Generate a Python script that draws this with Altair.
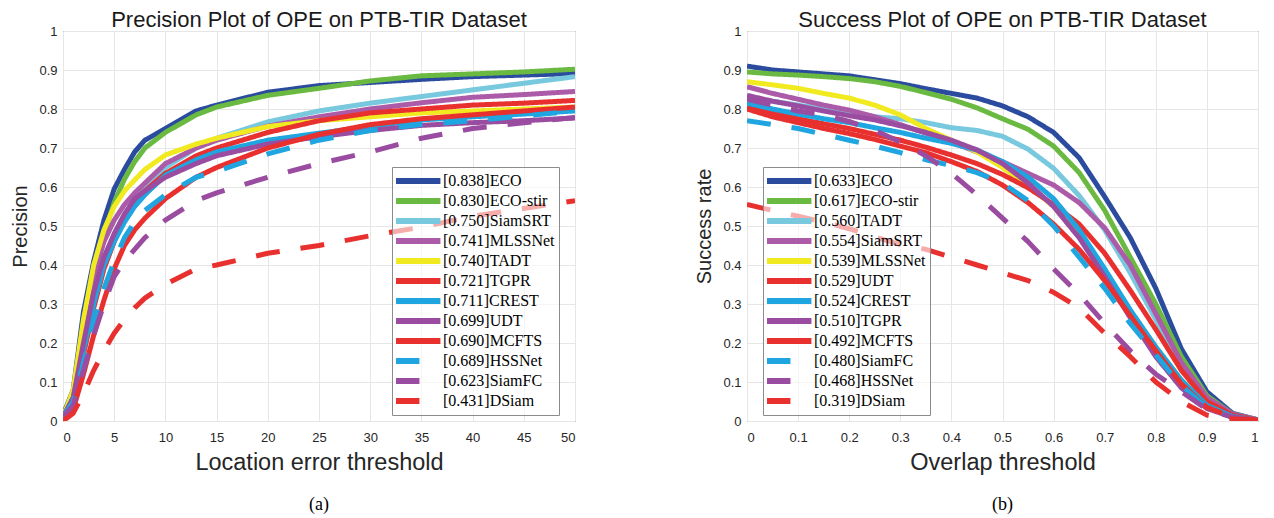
import altair as alt
import pandas as pd

# ---------------- data ----------------
X_PREC = [0, 1, 2, 3, 4, 5, 6, 7, 8, 10, 13, 15, 20, 25, 30, 35, 40, 45, 50]
X_SUCC = [0, 0.05, 0.1, 0.15, 0.2, 0.25, 0.3, 0.35, 0.4, 0.45, 0.5,
          0.55, 0.6, 0.65, 0.7, 0.75, 0.8, 0.85, 0.9, 0.95, 1.0]

PREC_NAMES = ["ECO", "ECO-stir", "SiamSRT", "MLSSNet", "TADT", "TGPR",
              "CREST", "UDT", "MCFTS", "HSSNet", "SiamFC", "DSiam"]
PREC_SCORES = ["0.838", "0.830", "0.750", "0.741", "0.740", "0.721",
               "0.711", "0.699", "0.690", "0.689", "0.623", "0.431"]

SUCC_NAMES = ["ECO", "ECO-stir", "TADT", "SiamSRT", "MLSSNet", "UDT",
              "CREST", "TGPR", "MCFTS", "SiamFC", "HSSNet", "DSiam"]
SUCC_SCORES = ["0.633", "0.617", "0.560", "0.554", "0.539", "0.529",
               "0.524", "0.510", "0.492", "0.480", "0.468", "0.319"]

# precision curves (same order as PREC_NAMES)
P_ECO = [0.015, 0.08, 0.28, 0.41, 0.515, 0.595, 0.645, 0.69, 0.72, 0.75, 0.795, 0.81, 0.843, 0.86, 0.868, 0.876, 0.883, 0.887, 0.891]
P_ECOSTIR = [0.01, 0.07, 0.25, 0.38, 0.48, 0.56, 0.62, 0.665, 0.70, 0.74, 0.785, 0.805, 0.835, 0.853, 0.872, 0.885, 0.890, 0.895, 0.902]
P_SIAMSRT = [0.01, 0.06, 0.18, 0.30, 0.40, 0.48, 0.53, 0.567, 0.60, 0.65, 0.70, 0.725, 0.767, 0.795, 0.815, 0.832, 0.849, 0.866, 0.883]
P_MLSSNET = [0.01, 0.07, 0.24, 0.37, 0.46, 0.515, 0.555, 0.585, 0.61, 0.66, 0.70, 0.72, 0.756, 0.78, 0.80, 0.816, 0.83, 0.837, 0.845]
P_TADT = [0.01, 0.08, 0.26, 0.40, 0.49, 0.55, 0.59, 0.618, 0.645, 0.682, 0.71, 0.725, 0.755, 0.77, 0.78, 0.79, 0.795, 0.80, 0.805]
P_TGPR = [0.01, 0.04, 0.17, 0.29, 0.39, 0.46, 0.52, 0.56, 0.59, 0.635, 0.68, 0.70, 0.74, 0.77, 0.79, 0.80, 0.81, 0.815, 0.822]
P_CREST = [0.01, 0.06, 0.18, 0.30, 0.40, 0.46, 0.51, 0.55, 0.58, 0.63, 0.67, 0.69, 0.72, 0.738, 0.755, 0.772, 0.78, 0.787, 0.795]
P_UDT = [0.01, 0.06, 0.20, 0.33, 0.42, 0.48, 0.53, 0.57, 0.59, 0.625, 0.66, 0.68, 0.71, 0.729, 0.745, 0.758, 0.765, 0.77, 0.777]
P_MCFTS = [0.005, 0.03, 0.12, 0.22, 0.31, 0.39, 0.45, 0.49, 0.52, 0.57, 0.625, 0.65, 0.70, 0.735, 0.76, 0.775, 0.785, 0.795, 0.805]
P_HSSNET = [0.01, 0.05, 0.15, 0.25, 0.34, 0.41, 0.47, 0.51, 0.54, 0.58, 0.625, 0.64, 0.685, 0.72, 0.745, 0.76, 0.77, 0.782, 0.795]
P_SIAMFC = [0.01, 0.04, 0.13, 0.22, 0.30, 0.37, 0.41, 0.44, 0.47, 0.515, 0.565, 0.585, 0.625, 0.66, 0.69, 0.725, 0.75, 0.765, 0.778]
P_DSIAM = [0.0, 0.02, 0.07, 0.13, 0.18, 0.225, 0.26, 0.29, 0.315, 0.35, 0.39, 0.40, 0.43, 0.45, 0.475, 0.497, 0.525, 0.545, 0.565]

# success curves (same order as SUCC_NAMES)
S_ECO = [0.91, 0.90, 0.895, 0.89, 0.885, 0.875, 0.865, 0.852, 0.84, 0.828, 0.808, 0.78, 0.74, 0.675, 0.575, 0.47, 0.34, 0.185, 0.075, 0.02, 0.003]
S_ECOSTIR = [0.895, 0.89, 0.887, 0.883, 0.878, 0.87, 0.858, 0.842, 0.825, 0.803, 0.775, 0.748, 0.705, 0.637, 0.54, 0.42, 0.30, 0.165, 0.065, 0.018, 0.003]
S_TADT = [0.83, 0.82, 0.81, 0.80, 0.79, 0.78, 0.775, 0.765, 0.752, 0.745, 0.73, 0.697, 0.648, 0.578, 0.49, 0.38, 0.26, 0.14, 0.055, 0.015, 0.003]
S_SIAMSRT = [0.857, 0.84, 0.825, 0.81, 0.797, 0.78, 0.76, 0.738, 0.715, 0.69, 0.665, 0.635, 0.605, 0.56, 0.495, 0.40, 0.275, 0.15, 0.06, 0.018, 0.003]
S_MLSSNET = [0.87, 0.862, 0.853, 0.84, 0.828, 0.81, 0.785, 0.75, 0.72, 0.69, 0.65, 0.605, 0.55, 0.475, 0.375, 0.28, 0.19, 0.105, 0.042, 0.012, 0.002]
S_UDT = [0.805, 0.79, 0.775, 0.762, 0.75, 0.735, 0.72, 0.702, 0.682, 0.66, 0.632, 0.598, 0.555, 0.505, 0.43, 0.335, 0.235, 0.13, 0.05, 0.015, 0.002]
S_CREST = [0.815, 0.80, 0.787, 0.775, 0.765, 0.752, 0.74, 0.725, 0.712, 0.695, 0.665, 0.625, 0.57, 0.49, 0.39, 0.285, 0.19, 0.105, 0.04, 0.012, 0.002]
S_TGPR = [0.835, 0.82, 0.808, 0.795, 0.783, 0.772, 0.757, 0.74, 0.72, 0.695, 0.66, 0.61, 0.55, 0.47, 0.37, 0.265, 0.165, 0.085, 0.032, 0.01, 0.002]
S_MCFTS = [0.80, 0.78, 0.765, 0.75, 0.737, 0.722, 0.705, 0.688, 0.665, 0.64, 0.605, 0.56, 0.505, 0.44, 0.36, 0.27, 0.18, 0.095, 0.035, 0.01, 0.002]
S_SIAMFC = [0.77, 0.76, 0.75, 0.735, 0.72, 0.705, 0.688, 0.67, 0.655, 0.637, 0.61, 0.565, 0.50, 0.42, 0.34, 0.25, 0.17, 0.09, 0.035, 0.01, 0.002]
S_HSSNET = [0.825, 0.81, 0.795, 0.785, 0.768, 0.745, 0.715, 0.68, 0.635, 0.58, 0.52, 0.46, 0.39, 0.325, 0.25, 0.18, 0.12, 0.075, 0.03, 0.01, 0.002]
S_DSIAM = [0.555, 0.54, 0.525, 0.51, 0.493, 0.472, 0.452, 0.44, 0.42, 0.40, 0.38, 0.36, 0.33, 0.29, 0.225, 0.165, 0.10, 0.05, 0.015, 0.006, 0.002]

PREC_CURVES = [P_ECO, P_ECOSTIR, P_SIAMSRT, P_MLSSNET, P_TADT, P_TGPR,
               P_CREST, P_UDT, P_MCFTS, P_HSSNET, P_SIAMFC, P_DSIAM]
SUCC_CURVES = [S_ECO, S_ECOSTIR, S_TADT, S_SIAMSRT, S_MLSSNET, S_UDT,
               S_CREST, S_TGPR, S_MCFTS, S_SIAMFC, S_HSSNET, S_DSIAM]

PALETTE = ["#2B4C9E", "#6AB941", "#78C8DE", "#AC5BA8", "#F2EA21", "#E8302F",
           "#1FA5DF", "#9A4DA0", "#E8302F", "#1FA5DF", "#9A4DA0", "#E8302F"]
SOLID = [1, 0]
DASH = [24, 21]
DASHES = [SOLID] * 9 + [DASH] * 3

Y_TICKS = [0, 0.1, 0.2, 0.3, 0.4, 0.5, 0.6, 0.7, 0.8, 0.9, 1]
X_TICKS_PREC = [0, 5, 10, 15, 20, 25, 30, 35, 40, 45, 50]
X_TICKS_SUCC = [0, 0.1, 0.2, 0.3, 0.4, 0.5, 0.6, 0.7, 0.8, 0.9, 1]

H = 390
AXIS_GRAY = "#262626"


def panel(xs, names, scores, curves, title, xtitle, ytitle, xticks, caption,
          legend_x, width):
    labels = [f"[{s}]{n}" for s, n in zip(scores, names)]
    rows = []
    for i, (lab, ys) in enumerate(zip(labels, curves)):
        for x, y in zip(xs, ys):
            rows.append({"x": x, "y": y, "series": lab, "ord": i})
    df = pd.DataFrame(rows)

    legend = alt.Legend(
        title=None, orient="none", legendX=legend_x, legendY=136,
        direction="vertical", symbolType="M-1.7,0H6.3", symbolSize=126.5,
        symbolStrokeWidth=6, symbolFillColor="transparent",
        labelFont="Liberation Serif", labelFontSize=16,
        labelColor="black", labelLimit=400, fillColor="rgba(255,255,255,0.6)",
        strokeColor="#8c8c8c", padding=4, rowPadding=0, clipHeight=19.8,
        labelOffset=29,
    )
    color = alt.Color("series:N", scale=alt.Scale(domain=labels, range=PALETTE),
                      legend=legend)
    dash = alt.StrokeDash("series:N", scale=alt.Scale(domain=labels, range=DASHES),
                          legend=legend)

    lines = alt.Chart(df).mark_line(strokeWidth=5, clip=True, strokeCap="butt",
                                    strokeJoin="round").encode(
        x=alt.X("x:Q", scale=alt.Scale(domain=[xs[0], xs[-1]], nice=False, zero=False),
                axis=alt.Axis(values=xticks, format="~g", title=xtitle,
                              titleFontSize=23.5, labelPadding=10, titlePadding=6)),
        y=alt.Y("y:Q", scale=alt.Scale(domain=[0, 1], nice=False),
                axis=alt.Axis(values=Y_TICKS, format="~g", title=ytitle,
                              titleFontSize=20, labelPadding=6, titlePadding=8)),
        color=color,
        strokeDash=dash,
        order=alt.Order("x:Q"),
    )

    cap = alt.Chart(pd.DataFrame({"t": [caption]})).mark_text(
        font="Liberation Serif", fontSize=18, color="black", baseline="middle",
        align="center"
    ).encode(text="t:N", x=alt.value(width / 2), y=alt.value(H + 84))

    return alt.layer(lines, cap).properties(
        width=width, height=H,
        title=alt.TitleParams(title, font="Liberation Sans", fontSize=22,
                              fontWeight="normal", color="#1a1a1a",
                              anchor="middle", frame="group", offset=-7),
    )


left = panel(X_PREC, PREC_NAMES, PREC_SCORES, PREC_CURVES,
             "Precision Plot of OPE on PTB-TIR Dataset",
             "Location error threshold", "Precision", X_TICKS_PREC, "(a)", 329, 512)
right = panel(X_SUCC, SUCC_NAMES, SUCC_SCORES, SUCC_CURVES,
              "Success Plot of OPE on PTB-TIR Dataset",
              "Overlap threshold", "Success rate", X_TICKS_SUCC, "(b)", 16, 511)

chart = alt.hconcat(left, right, spacing=118).resolve_scale(
    color="independent", strokeDash="independent"
).properties(
    padding={"left": 2, "top": 0, "right": 0, "bottom": 0},
    background="white",
).configure_view(
    stroke="#404040", strokeWidth=1
).configure_axis(
    grid=True, gridColor="#e6e6e6", gridWidth=1, domain=False, ticks=False,
    labelFont="Liberation Sans", labelFontSize=13, labelColor=AXIS_GRAY,
    titleFont="Liberation Sans", titleFontWeight="normal", titleColor=AXIS_GRAY,
)

chart.save("out.html", embed_options={"renderer": "svg", "actions": False})
